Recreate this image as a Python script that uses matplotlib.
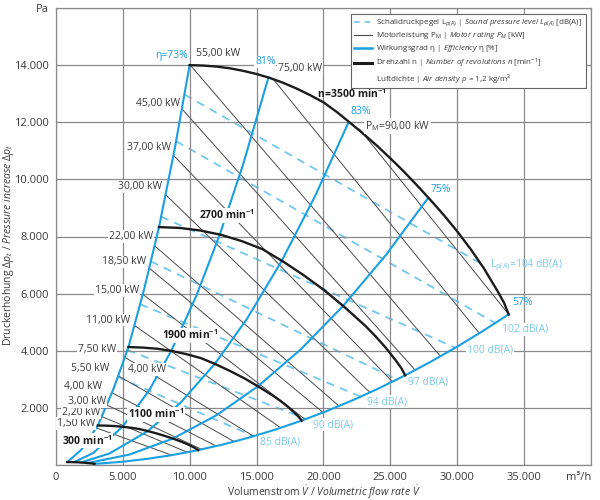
import matplotlib
matplotlib.use('Agg')
import matplotlib.pyplot as plt
from matplotlib.lines import Line2D

plt.rcParams['font.family'] = ['Open Sans', 'DejaVu Sans']
plt.rcParams['mathtext.fontset'] = 'custom'
plt.rcParams['mathtext.rm'] = 'Open Sans'
plt.rcParams['mathtext.it'] = 'Open Sans:italic'
plt.rcParams['mathtext.bf'] = 'Open Sans:bold'

# ---- data (V in m3/h, p in Pa) ----
# fan curves (Drehzahl)
speeds = ['300', '1100', '1900', '2700', '3500']
v_300 = [857, 1200, 1540, 1890, 2230, 2570, 2740, 2900]
p_300 = [103, 101, 97, 88, 76, 60, 51, 39]
v_1100 = [3143, 3771, 4400, 5029, 5657, 6286, 6914, 7543, 8171, 8800, 9429, 9743, 10057, 10371, 10529, 10639]
p_1100 = [1383, 1378, 1363, 1338, 1302, 1254, 1183, 1104, 1015, 917, 808, 747, 680, 603, 561, 521]
v_1900 = [5430, 6510, 7600, 8690, 9770, 10860, 11940, 13030, 14110, 15200, 16290, 16830, 17370, 17910, 18190, 18380]
p_1900 = [4130, 4110, 4070, 3990, 3880, 3740, 3530, 3290, 3030, 2730, 2410, 2230, 2030, 1800, 1670, 1550]
v_2700 = [7710, 9260, 10800, 12340, 13890, 15430, 16970, 18510, 20060, 21600, 23140, 23910, 24690, 25460, 25840, 26110]
p_2700 = [8330, 8300, 8210, 8060, 7840, 7560, 7130, 6650, 6120, 5520, 4870, 4500, 4090, 3630, 3380, 3140]
v_3500 = [10000, 11000, 12000, 13000, 14000, 15000, 16000, 17000, 18000, 19000, 20000, 21000, 22000,
          23000, 24000, 25000, 26000, 27000, 28000, 29000, 30000, 31000, 32000, 33000, 33500, 33850]
p_3500 = [14000, 13985, 13950, 13890, 13800, 13690, 13550, 13380, 13180, 12950, 12700, 12360, 11980,
          11590, 11180, 10740, 10280, 9790, 9280, 8750, 8180, 7560, 6880, 6100, 5680, 5270]

# efficiency lines (Wirkungsgrad)
v_eta73 = [857, 1900, 3143, 4300, 5429, 6600, 7714, 8900, 10000]
p_eta73 = [103, 530, 1383, 2650, 4126, 6150, 8331, 11100, 14000]
v_eta81 = [1363, 2800, 4997, 7000, 8632, 10500, 12265, 14000, 15900]
p_eta81 = [100, 421, 1342, 2631, 4002, 5920, 8080, 10525, 13580]
v_eta83 = [1875, 4000, 6877, 9300, 11878, 14300, 16878, 19400, 21880]
p_eta83 = [88, 401, 1186, 2168, 3537, 5126, 7141, 9435, 12000]
v_eta75 = [2384, 5500, 8742, 12000, 15100, 18300, 21457, 24700, 27815]
p_eta75 = [69, 365, 923, 1739, 2753, 4045, 5560, 7368, 9344]
v_eta57 = [2901, 4900, 6800, 8700, 10637, 12600, 14500, 16400, 18373, 20300, 22300, 24200, 26110, 28000, 30000, 31900, 33845]
p_eta57 = [39, 110, 213, 348, 521, 731, 968, 1238, 1554, 1897, 2290, 2696, 3139, 3609, 4144, 4685, 5274]

# motor rating lines (kW): start and end points
power_labels = ['1,50', '2,20', '3,00', '4,00', '5,50', '7,50', '11,00', '15,00', '18,50',
                '22,00', '30,00', '37,00', '45,00', '55,00', '75,00', '90,00']
pw_v0 = [3020, 3430, 3800, 4190, 4660, 5160, 5870, 6500, 6980, 7380, 8200, 8790, 9420, 10050, 16300, 22700]
pw_p0 = [1300, 1697, 2102, 2529, 3121, 3774, 4888, 5977, 6894, 7677, 9466, 10843, 12471, 14000, 13480, 11760]
pw_v1 = [8654, 9835, 10900, 11990, 13330, 14780, 16810, 18630, 19975, 21170, 23480, 25160, 26860, 28750, 31650, 33845]
pw_p1 = [345, 445, 547, 662, 818, 1006, 1301, 1598, 1837, 2063, 2538, 2914, 3322, 3806, 4612, 5274]

# sound pressure level lines (dB(A)): start and end points
sound_levels = ['85', '90', '94', '97', '100', '102', '104']
sd_v0 = [4630, 5350, 6300, 7100, 7870, 8990, 9610]
sd_p0 = [3081, 4023, 5631, 7129, 8695, 11337, 12972]
sd_v1 = [14770, 18700, 22800, 25500, 29860, 32850, 31730]
sd_p1 = [1010, 1612, 2393, 2994, 4105, 4968, 7064]

x_ticks = [0, 5000, 10000, 15000, 20000, 25000, 30000, 35000, 40000]
x_ticklabels = ['0', '5.000', '10.000', '15.000', '20.000', '25.000', '30.000', '35.000', 'm³/h']
y_ticks = [0, 2000, 4000, 6000, 8000, 10000, 12000, 14000, 16000]
y_ticklabels = ['', '2.000', '4.000', '6.000', '8.000', '10.000', '12.000', '14.000', 'Pa']

BLUE = '#1a9fe3'
LBLUE = '#72c7ef'
DBL = '#7ccbef'
GREY = '#4a4a4a'
TXT = '#3a3a3a'

fig = plt.figure(figsize=(6, 5), dpi=100)
ax = fig.add_axes([0.093, 0.07, 0.892, 0.914])
ax.set_xlim(0, 40000)
ax.set_ylim(0, 16000)
ax.set_xticks(x_ticks)
ax.set_xticklabels(x_ticklabels)
ax.set_yticks(y_ticks)
ax.set_yticklabels(y_ticklabels)
ax.tick_params(length=0, labelsize=8, labelcolor=TXT, pad=5)
ax.get_xticklabels()[-1].set_horizontalalignment('right')
ax.grid(True, color='#8a8a8a', lw=0.9, zorder=0)
for s in ax.spines.values():
    s.set_color('#8a8a8a')
    s.set_linewidth(0.9)

# sound lines
for i in range(len(sound_levels)):
    ax.plot([sd_v0[i], sd_v1[i]], [sd_p0[i], sd_p1[i]], color=LBLUE, lw=1.3,
            dashes=(4.5, 3.5), zorder=1)

# motor rating lines
for i in range(len(power_labels)):
    ax.plot([pw_v0[i], pw_v1[i]], [pw_p0[i], pw_p1[i]], color=GREY, lw=0.7, zorder=2)

# efficiency lines
for v, p in [(v_eta73, p_eta73), (v_eta81, p_eta81), (v_eta83, p_eta83),
             (v_eta75, p_eta75), (v_eta57, p_eta57)]:
    ax.plot(v, p, color=BLUE, lw=1.5, zorder=3, solid_capstyle='round')

# fan curves
for v, p in [(v_300, p_300), (v_1100, p_1100), (v_1900, p_1900),
             (v_2700, p_2700), (v_3500, p_3500)]:
    ax.plot(v, p, color='#1c1c1c', lw=1.7, zorder=4)

wb = dict(fc='white', ec='none', pad=0.6)

# kW labels on the left of the 73% line
kw_pos = [(2930, 1450), (3305, 1835), (3755, 2230), (3430, 2760), (3980, 3380),
          (4500, 4045), (5600, 5075), (6245, 6115), (6745, 7110), (7290, 8010),
          (7965, 9755), (8595, 11123), (9290, 12667)]
for lab, (x, y) in zip(power_labels[:13], kw_pos):
    ax.text(x, y, lab + ' kW', ha='right', va='center', fontsize=7.5, color=TXT,
            bbox=wb, zorder=5)
ax.text(10490, 14400, '55,00 kW', ha='left', va='center', fontsize=7.5, color=TXT, zorder=5)
ax.text(16620, 13870, '75,00 kW', ha='left', va='center', fontsize=7.5, color=TXT, bbox=wb, zorder=5)
ax.text(23130, 11870, r'P$_\mathrm{M}$=90,00 kW', ha='left', va='center', fontsize=7.5,
        color=TXT, bbox=wb, zorder=5)
ax.text(5400, 3340, '4,00 kW', ha='left', va='center', fontsize=7.5, color=TXT, bbox=wb, zorder=5)

# efficiency labels
ax.text(9900, 14326, 'η=73%', ha='right', va='center', fontsize=7.5, color=BLUE, zorder=5)
ax.text(14900, 14115, '81%', ha='left', va='center', fontsize=7.5, color=BLUE, bbox=wb, zorder=5)
ax.text(22000, 12390, '83%', ha='left', va='center', fontsize=7.5, color=BLUE, zorder=5)
ax.text(27990, 9660, '75%', ha='left', va='center', fontsize=7.5, color=BLUE, zorder=5)
ax.text(34120, 5690, '57%', ha='left', va='center', fontsize=7.5, color=BLUE, zorder=5)

# speed labels
sp_pos = [(460, 850), (5400, 1765), (7950, 4540), (10710, 8740)]
for lab, (x, y) in zip(speeds[:4], sp_pos):
    ax.text(x, y, r'$\mathbf{' + lab + r'\ min^{-1}}$', ha='left', va='center',
            fontsize=7.5, color='#1c1c1c', bbox=wb, zorder=5)
ax.text(19540, 13000, r'$\mathbf{n\!=\!3500\ min^{-1}}$', ha='left', va='center',
        fontsize=7.5, color='#1c1c1c', zorder=5)

# sound labels
db_pos = [(15270, 820), (19240, 1415), (23280, 2220), (26340, 2920),
          (30750, 4010), (33370, 4750)]
for lab, (x, y) in zip(sound_levels[:6], db_pos):
    ax.text(x, y, lab + ' dB(A)', ha='left', va='center', fontsize=7.5, color=DBL,
            bbox=wb, zorder=5)
ax.text(32480, 6990, r'L$_{\mathrm{p(A)}}$=104 dB(A)', ha='left', va='center',
        fontsize=7.5, color=DBL, zorder=5)

fig.text(8.5 / 600, 0.51,
         r'Druckerhöhung $\Delta p_t$ / $\mathit{Pressure\ increase}$ $\Delta p_t$',
         rotation=90, ha='center', va='center', fontsize=7.5, color=TXT)
ax.set_xlabel(r'Volumenstrom $\dot{V}$ / $\mathit{Volumetric\ flow\ rate}$ $\dot{V}$',
              fontsize=7.5, color=TXT, labelpad=1)

handles = [Line2D([], [], color=LBLUE, lw=1.3, dashes=(3, 3)),
           Line2D([], [], color=GREY, lw=0.8),
           Line2D([], [], color=BLUE, lw=1.8),
           Line2D([], [], color='#1c1c1c', lw=2.2),
           Line2D([], [], color='none')]
labels = [r'Schalldruckpegel L$_{\mathrm{p(A)}}$ | $\mathit{Sound\ pressure\ level\ L_{p(A)}}$ [dB(A)]',
          r'Motorleistung P$_\mathrm{M}$ | $\mathit{Motor\ rating\ P_M}$ [kW]',
          r'Wirkungsgrad η | $\mathit{Efficiency}$ η [%]',
          r'Drehzahl n | $\mathit{Number\ of\ revolutions\ n}$ [min$^{-1}$]',
          r'Luftdichte | $\mathit{Air\ density}\ \rho$ = 1,2 kg/m³']
leg = ax.legend(handles, labels, loc='upper right', bbox_to_anchor=(0.998, 0.996),
                fontsize=5.8, frameon=True, fancybox=False, edgecolor='#666666',
                framealpha=1, handlelength=2.2, handleheight=0.5, handletextpad=0.5,
                borderpad=0.45, labelspacing=0.25)
leg.get_frame().set_linewidth(0.8)
leg.set_zorder(6)
for t in leg.get_texts():
    t.set_color(TXT)

fig.savefig('out.png', dpi=100)
